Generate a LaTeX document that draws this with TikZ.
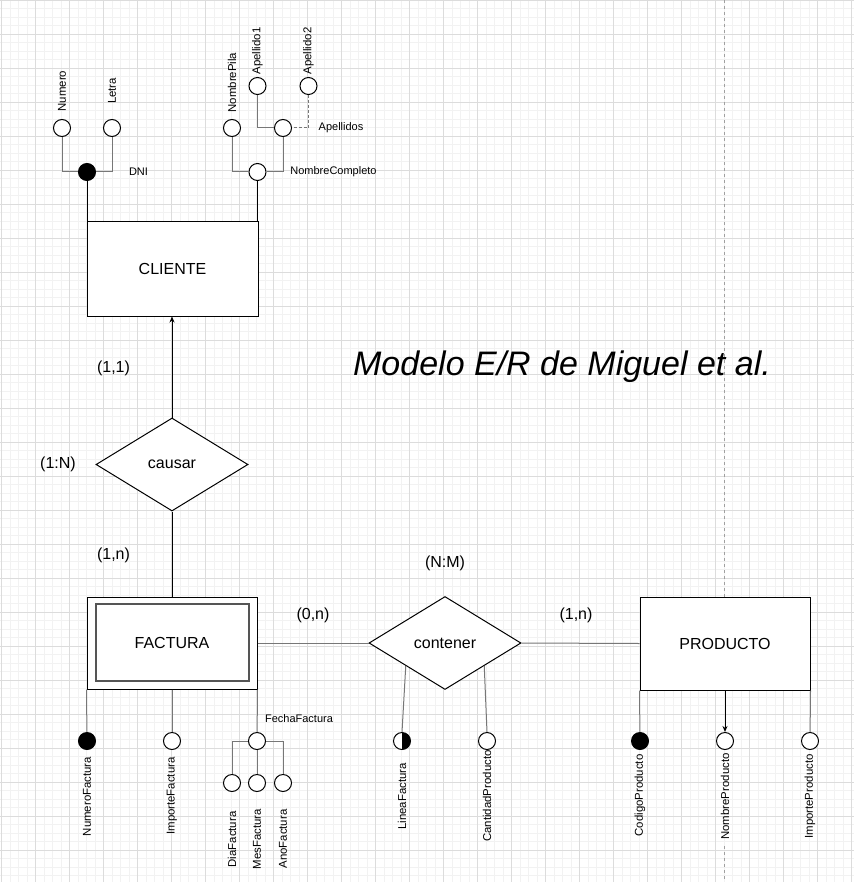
\documentclass[tikz,border=0pt]{standalone}
\usepackage{fontspec}
\setmainfont{Liberation Sans}
\usetikzlibrary{shapes.geometric,arrows.meta,calc}
\definecolor{gmin}{HTML}{F2F2F2}
\definecolor{gmaj}{HTML}{DCDCDC}
\definecolor{aline}{HTML}{777777}
\definecolor{pbreak}{HTML}{A0A0A0}
\definecolor{inner}{HTML}{555555}
\begin{document}
\begin{tikzpicture}[x=1pt,y=-1pt,
  attr/.style={circle,draw=black,fill=white,line width=1pt,minimum size=17pt,inner sep=0pt},
  keyattr/.style={attr,fill=black},
  halfattr/.style={attr,path picture={\fill[black] (path picture bounding box.north) rectangle (path picture bounding box.south east);}},
  entity/.style={rectangle,draw=black,fill=white,line width=1pt,inner sep=0pt,minimum width=170pt,minimum height=93pt,font=\fontsize{16}{19}\selectfont},
  innerbox/.style={rectangle,draw=inner,line width=2pt,inner sep=0pt,minimum width=153pt,minimum height=77pt},
  rel/.style={diamond,draw=black,fill=white,line width=1pt,inner sep=0pt,aspect=1.634,minimum width=152pt,minimum height=93pt,font=\fontsize{16}{19}\selectfont},
  lbl/.style={inner sep=0pt,font=\fontsize{11}{13}\selectfont},
  vlbl/.style={inner sep=0pt,rotate=90,font=\fontsize{11.4}{13}\selectfont},
  card/.style={inner sep=0pt,font=\fontsize{16}{19}\selectfont},
  conn/.style={draw=black,line width=1pt},
  aconn/.style={draw=aline,line width=1pt},
  tipped/.style={-{Stealth[length=6pt,width=5pt]}},
]
\useasboundingbox (0,0) rectangle (854,882);
\fill[white] (0,0) rectangle (854,882);
% grid
\foreach \k in {0,...,100} {\pgfmathsetmacro\gx{1.7+8.5*\k}\draw[gmin,line width=0.9pt] (\gx,0) -- (\gx,882);}
\foreach \k in {0,...,104} {\pgfmathsetmacro\gy{0.3+8.5*\k}\draw[gmin,line width=0.9pt] (0,\gy) -- (854,\gy);}
\foreach \k in {0,...,25} {\pgfmathsetmacro\gx{1.7+34*\k}\draw[gmaj,line width=1pt] (\gx,0) -- (\gx,882);}
\foreach \k in {0,...,26} {\pgfmathsetmacro\gy{0.3+34*\k}\draw[gmaj,line width=1pt] (0,\gy) -- (854,\gy);}
% page break
\draw[pbreak,line width=1pt,dash pattern=on 3pt off 3pt] (724.5,0) -- (724.5,600);
\draw[pbreak,line width=1pt,dash pattern=on 3pt off 3pt] (724.5,846) -- (724.5,882);

% entities and relationships
\node[entity,minimum width=171pt,minimum height=94pt] (cliente) at (172.5,269) {CLIENTE};
\node[entity,minimum height=92pt] (fact) at (172,643) {};
\node[innerbox] (factin) at (172,642.5) {};
\node[card] (facttext) at (172,643) {FACTURA};
\node[entity] (prod) at (725,643.5) {PRODUCTO};
\node[rel] (causar) at (172,464.5) {causar};
\node[rel] (cont) at (445,643) {contener};

% attribute circles
\node[keyattr] (dni) at (87,172) {};
\node[attr] (num) at (62,128) {};
\node[attr] (letra) at (112,128) {};
\node[attr] (nc) at (257.5,172) {};
\node[attr] (np) at (232,128) {};
\node[attr] (apl) at (283,128) {};
\node[attr] (ap1) at (257.5,86) {};
\node[attr] (ap2) at (308.5,86) {};

\node[keyattr] (nf) at (87,741) {};
\node[attr] (impf) at (172,741) {};
\node[attr] (ff) at (257,741) {};
\node[attr] (dia) at (232,783) {};
\node[attr] (mes) at (257,783) {};
\node[attr] (ano) at (283,783) {};

\node[halfattr] (lf) at (402,741) {};
\node[attr] (cp) at (487,741) {};

\node[keyattr] (cod) at (640,741) {};
\node[attr] (nprod) at (725,741) {};
\node[attr] (iprod) at (810,741) {};

% connectors: top
\draw[aconn] (num) |- (dni);
\draw[aconn] (letra) |- (dni);
\draw[conn] (dni) -- (dni |- cliente.north);
\draw[aconn] (np) |- (nc);
\draw[aconn] (apl) |- (nc);
\draw[conn] (nc) -- (nc |- cliente.north);
\draw[aconn] (ap1) |- (apl);
\draw[aconn,dash pattern=on 3pt off 2pt] (ap2) |- (apl);

% main connectors
\draw[conn,tipped] (causar.north) -- (causar.north |- cliente.south);
\draw[conn] (causar.south) -- (fact.north);
\draw[aconn] (fact.east) -- (cont.west);
\draw[aconn] (cont.east) -- (prod.west);

% factura attributes
\draw[aconn] (fact.south west) -- (nf);
\draw[aconn] (fact.south) -- (impf);
\draw[aconn] (fact.south east) -- (ff);
\draw[aconn] (ff) -| (dia);
\draw[aconn] (ff) -- (mes);
\draw[aconn] (ff) -| (ano);

% contener attributes
\draw[aconn] ($(cont.west)!0.487!(cont.south)$) -- (lf.north);
\draw[aconn] ($(cont.east)!0.487!(cont.south)$) -- (cp.north);

% producto attributes
\draw[aconn] (prod.south west) -- (cod);
\draw[conn,tipped] (prod.south) -- (nprod.north);
\draw[aconn] (prod.south east) -- (iprod);

% labels
\node[lbl] (ldni) at (138.5,172) {DNI};
\node[lbl] (lapl) at (341,128) {Apellidos};
\node[lbl] (lnc) at (333.5,172) {NombreCompleto};
\node[lbl] (lff) at (299,719) {FechaFactura};

\node[vlbl] (lnum) at (62,91) {Numero};
\node[vlbl] (lletra) at (112,91) {Letra};
\node[vlbl] (lnp) at (232,82.5) {NombrePila};
\node[vlbl] (lap1) at (257.5,51) {Apellido1};
\node[vlbl] (lap2) at (308.5,51) {Apellido2};

\node[vlbl] (lnf) at (87,796.5) {NumeroFactura};
\node[vlbl] (limpf) at (172,796) {ImporteFactura};
\node[vlbl] (ldia) at (232,839.5) {DiaFactura};
\node[vlbl] (lmes) at (257,839) {MesFactura};
\node[vlbl] (lano) at (283,839) {AnoFactura};
\node[vlbl] (llf) at (402,796.5) {LineaFactura};
\node[vlbl] (lcp) at (487,796) {CantidadProducto};
\node[vlbl] (lcod) at (640,795.5) {CodigoProducto};
\node[vlbl] (lnprod) at (725,796.5) {NombreProducto};
\node[vlbl] (liprod) at (810,796.5) {ImporteProducto};

\node[card] (c11) at (113.5,368) {(1,1)};
\node[card] (c1N) at (58,464) {(1:N)};
\node[card] (c1n) at (113.5,555) {(1,n)};
\node[card] (c0n) at (313,615.5) {(0,n)};
\node[card] (cNM) at (445,563) {(N:M)};
\node[card] (c1n2) at (576,615) {(1,n)};

\node[inner sep=0pt,font=\fontsize{34}{40}\selectfont\itshape] (title) at (562,367) {Modelo E/R de Miguel et al.};
\end{tikzpicture}
\end{document}
